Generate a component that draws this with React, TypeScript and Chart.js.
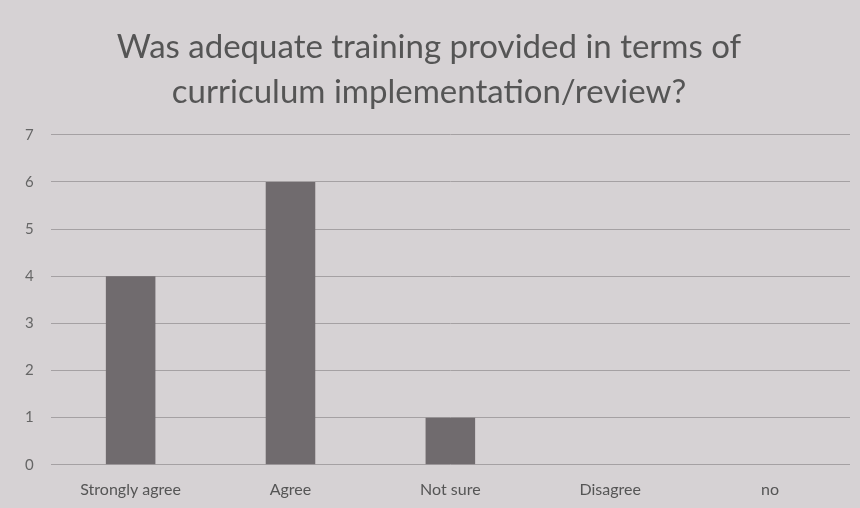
import React, { useEffect, useRef } from "react";
import { Chart, registerables } from "chart.js";

Chart.register(...registerables);

const titleLines = ["Was adequate training provided in terms of", "curriculum implementation/review?"];
const categories = ["Strongly agree", "Agree", "Not sure", "Disagree", "no"];
const counts = [4, 6, 1, 0, 0];
const yMax = 7;

const bgPlugin = {
  id: "paperBg",
  beforeDraw(chart: any) {
    const { ctx, width, height } = chart;
    ctx.save();
    ctx.fillStyle = "rgb(214,210,212)";
    ctx.fillRect(0, 0, width, height);
    ctx.restore();
  },
};

export default function App() {
  const ref = useRef<HTMLCanvasElement | null>(null);
  useEffect(() => {
    if (!ref.current) return;
    const chart = new Chart(ref.current, {
      type: "bar",
      data: {
        labels: categories,
        datasets: [
          {
            data: counts,
            backgroundColor: "rgb(112,107,110)",
            categoryPercentage: 1,
            barPercentage: 0.31,
          },
        ],
      },
      options: {
        animation: false,
        responsive: false,
        maintainAspectRatio: false,
        layout: { padding: { left: 8, right: 10, top: 0, bottom: -6 } },
        plugins: {
          legend: { display: false },
          tooltip: { enabled: false },
          title: {
            display: true,
            text: titleLines,
            color: "#555",
            font: { family: "Lato, 'Open Sans', sans-serif", size: 33, weight: "normal", lineHeight: 1.36 },
            padding: { top: 25, bottom: 20 },
          },
        },
        scales: {
          x: {
            grid: { display: false, drawTicks: false },
            border: { display: false },
            ticks: {
              color: "#555",
              font: { family: "Lato, 'Open Sans', sans-serif", size: 16 },
              padding: 15,
              maxRotation: 0,
            },
          },
          y: {
            min: 0,
            max: yMax,
            grid: { color: "rgb(165,161,163)", lineWidth: 1, drawTicks: false },
            border: { display: false },
            ticks: {
              stepSize: 1,
              color: "#666",
              font: { family: "Lato, 'Open Sans', sans-serif", size: 15 },
              padding: 17,
            },
          },
        },
      },
      plugins: [bgPlugin],
    });
    return () => chart.destroy();
  }, []);
  return (
    <div style={{ position: "absolute", left: 0, top: 0, width: 860, height: 508 }}>
      <canvas ref={ref} width={860} height={508} style={{ width: 860, height: 508 }} />
    </div>
  );
}
